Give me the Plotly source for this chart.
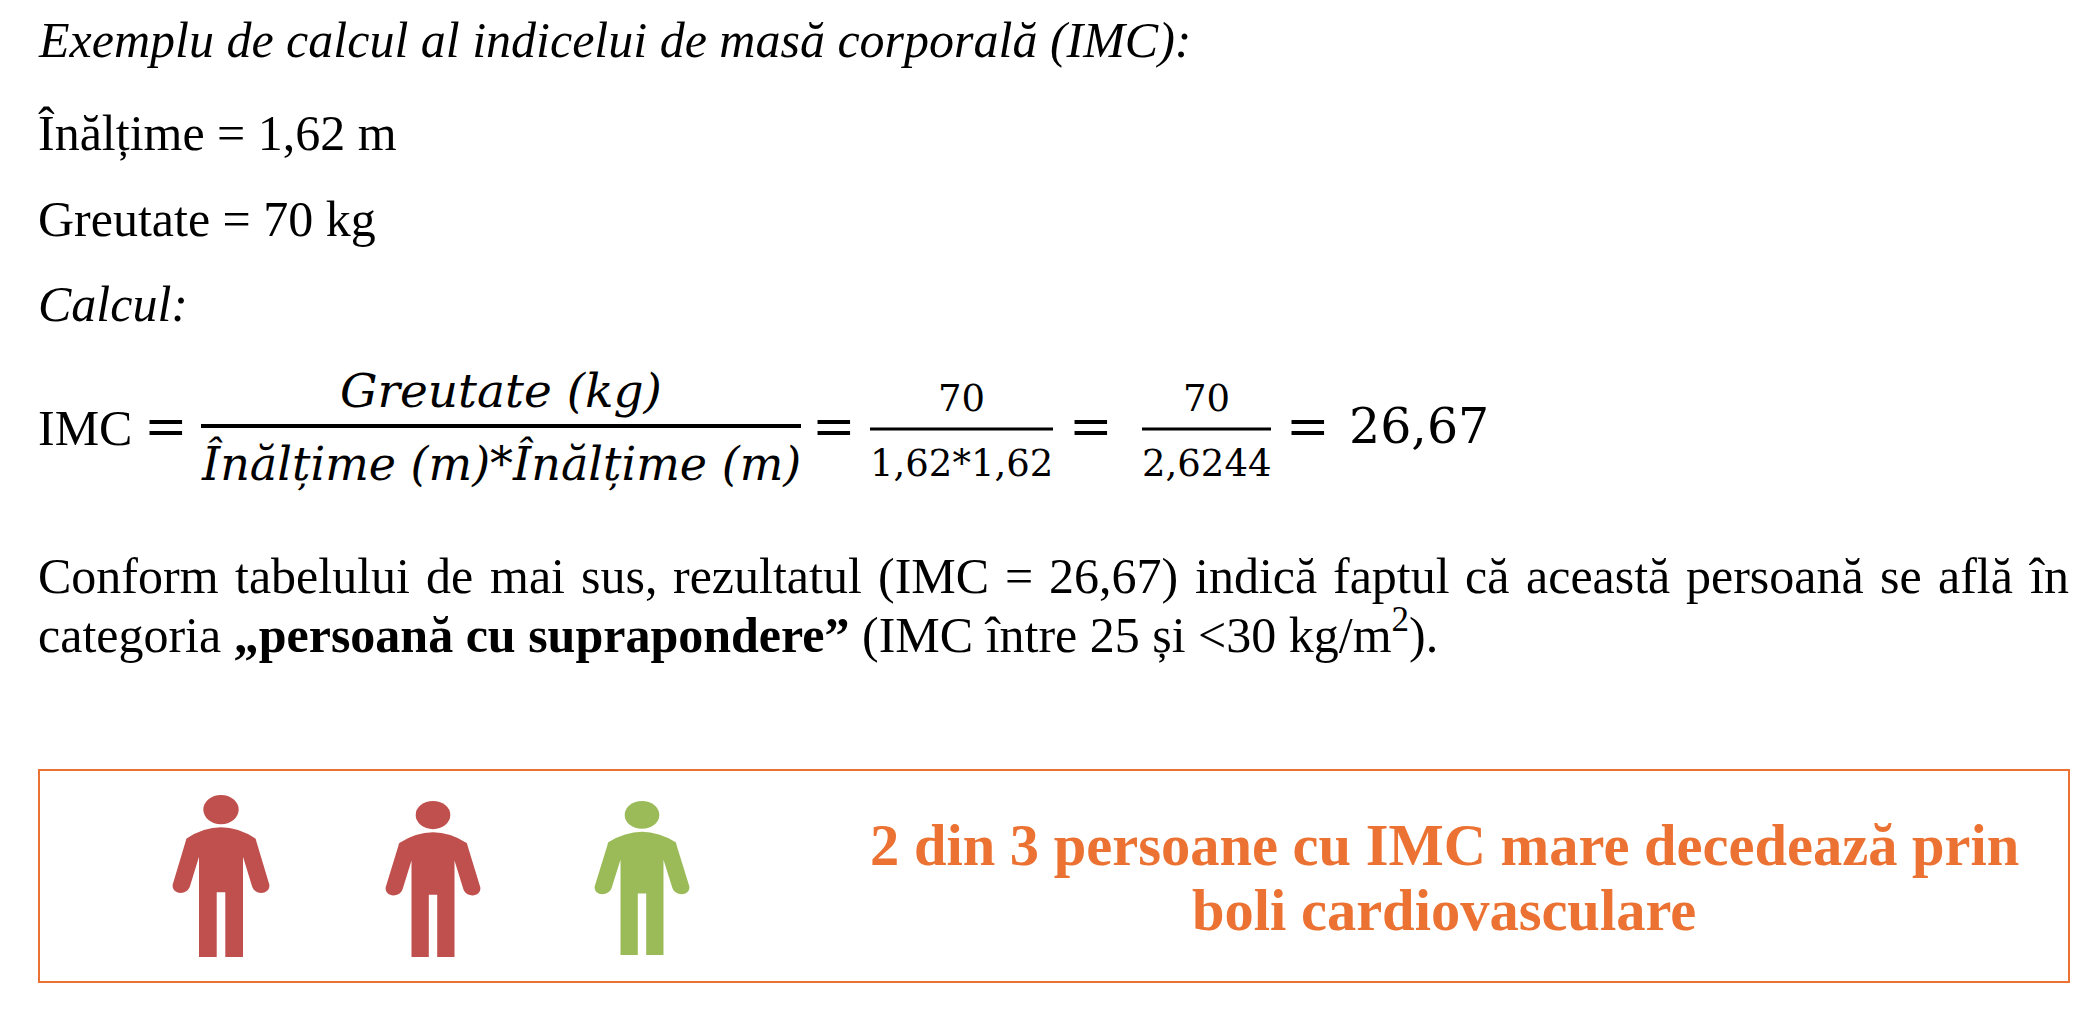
#!/usr/bin/env python
import plotly.graph_objects as go

WIDTH = 2099
HEIGHT = 1011

SERIF = "Liberation Serif"
MATH = "DejaVu Serif"
ORANGE = "#EB7232"
RED = "#C0504D"
GREEN = "#9BBB59"

# plain lines of the text
TITLE = "<i>Exemplu de calcul al indicelui de masă corporală (IMC):</i>"
HEIGHT_LINE = "Înălțime = 1,62 m"
WEIGHT_LINE = "Greutate = 70 kg"
CALC_LINE = "<i>Calcul:</i>"
NUMERATOR = "<i>Greutate (kg)</i>"
DENOMINATOR = "<i>Înălțime (m)</i>*<i>Înălțime (m)</i>"
RESULT_WORDS = ["Conform", "tabelului", "de", "mai", "sus,", "rezultatul", "(IMC", "=", "26,67)",
                "indică", "faptul", "că", "această", "persoană", "se", "află", "în"]
RESULT_LINE_2 = "categoria <b>„persoană cu suprapondere”</b> (IMC între 25 și <30 kg/m<sup>2</sup>)."
BOX_LINES = ["2 din 3 persoane cu IMC mare decedează prin", "boli cardiovasculare"]

# the first paragraph line is justified, so every word gets its own left edge
RESULT_WORD_X = [36, 233, 424, 488, 579, 671, 876, 1003, 1047, 1193, 1331, 1463, 1524, 1684, 1878, 1936, 2027]

# person icon outline, x from the centre and y from the top of the head
PERSON_SPAN = 203
PERSON_TALL = 488
PERSON_PATH = [
    ("M", -72, 131), ("Q", 0, 64, 72, 131), ("Q", 73, 132, 74, 140), ("L", 101, 270),
    ("C", 104, 300, 72, 305, 65, 276), ("L", 46, 186), ("L", 46, 488), ("L", 9, 488),
    ("L", 9, 293), ("L", -9, 293), ("L", -9, 488), ("L", -46, 488), ("L", -46, 186),
    ("L", -65, 276), ("C", -72, 305, -104, 300, -101, 270), ("L", -74, 140), ("Q", -73, 132, -72, 131),
]
# centre x, top, bottom, arm span, colour
PEOPLE = [
    (221, 795, 957, 97, RED),
    (433, 801, 957, 95, RED),
    (642, 801, 955, 95, GREEN),
]


def add_text(fig, x, y, text, size=50, font=SERIF, color="black", anchor="left"):
    fig.add_annotation(x=x, y=y, text=text, showarrow=False, xanchor=anchor, yanchor="middle",
                       font=dict(family=font, size=size, color=color))


def add_person(fig, cx, top, bottom, span, color):
    sx = span / PERSON_SPAN
    sy = (bottom - top) / PERSON_TALL
    path = ""
    for step in PERSON_PATH:
        path += step[0]
        pairs = step[1:]
        path += " ".join("%.1f,%.1f" % (cx + pairs[i] * sx, top + pairs[i + 1] * sy) for i in range(0, len(pairs), 2))
        path += " "
    fig.add_shape(type="path", path=path + "Z", fillcolor=color, line_width=0)
    fig.add_shape(type="circle", x0=cx - 37 * sx, x1=cx + 37 * sx, y0=top, y1=top + 88 * sy,
                  fillcolor=color, line_width=0)


fig = go.Figure()

add_text(fig, 36, 40, TITLE)
add_text(fig, 36, 133, HEIGHT_LINE)
add_text(fig, 36, 219, WEIGHT_LINE)
add_text(fig, 36, 304, CALC_LINE)

# equation
add_text(fig, 36, 428, "IMC")
add_text(fig, 166, 426, "=", size=52, font=MATH, anchor="center")
add_text(fig, 501, 390, NUMERATOR, size=47, font=MATH, anchor="center")
add_text(fig, 501, 463, DENOMINATOR, size=46, font=MATH, anchor="center")
add_text(fig, 834, 426, "=", size=52, font=MATH, anchor="center")
add_text(fig, 961, 398, "70", size=37, font=MATH, anchor="center")
add_text(fig, 961, 463, "1,62*1,62", size=37, font=MATH, anchor="center")
add_text(fig, 1091, 426, "=", size=52, font=MATH, anchor="center")
add_text(fig, 1206, 398, "70", size=37, font=MATH, anchor="center")
add_text(fig, 1206, 463, "2,6244", size=37, font=MATH, anchor="center")
add_text(fig, 1308, 426, "=", size=52, font=MATH, anchor="center")
add_text(fig, 1347, 426, "26,67", size=49, font=MATH)

fig.add_shape(type="line", x0=201, x1=801, y0=426, y1=426, line=dict(color="black", width=4))
fig.add_shape(type="line", x0=870, x1=1053, y0=429, y1=429, line=dict(color="black", width=3))
fig.add_shape(type="line", x0=1142, x1=1271, y0=429, y1=429, line=dict(color="black", width=3))

# paragraph under the equation
for word, x in zip(RESULT_WORDS, RESULT_WORD_X):
    add_text(fig, x, 576, word)
add_text(fig, 36, 631, RESULT_LINE_2)

# framed message with the three people
fig.add_shape(type="rect", x0=39, x1=2069, y0=770, y1=982, line=dict(color=ORANGE, width=2))
for cx, top, bottom, span, color in PEOPLE:
    add_person(fig, cx, top, bottom, span, color)
add_text(fig, 1444, 845, "<b>%s</b>" % BOX_LINES[0], size=58.5, color=ORANGE, anchor="center")
add_text(fig, 1444, 910, "<b>%s</b>" % BOX_LINES[1], size=58.5, color=ORANGE, anchor="center")

fig.update_layout(width=WIDTH, height=HEIGHT, margin=dict(l=0, r=0, t=0, b=0),
                  paper_bgcolor="white", plot_bgcolor="white", showlegend=False)
fig.update_xaxes(range=[0, WIDTH], visible=False)
fig.update_yaxes(range=[HEIGHT, 0], visible=False)

fig.write_html("out.html", config={"displayModeBar": False},
               post_script="document.body.style.margin='0';document.body.style.overflow='hidden';")
